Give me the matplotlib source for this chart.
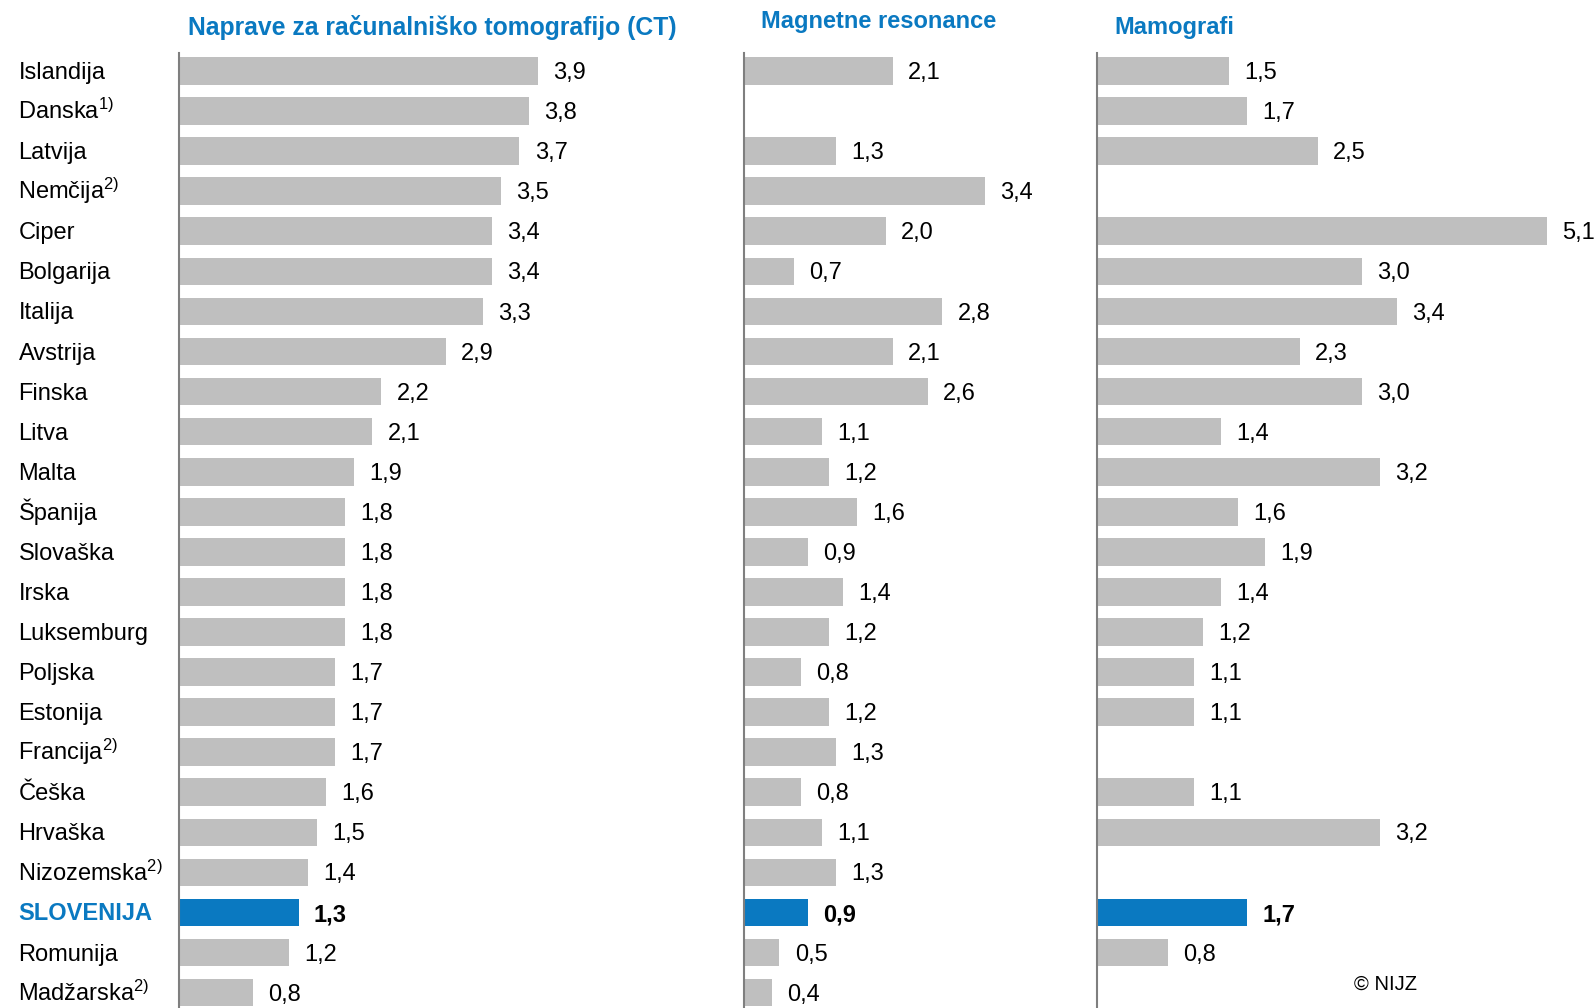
import numpy as np
import matplotlib
matplotlib.use("Agg")
import matplotlib.pyplot as plt
from matplotlib import font_manager as fm
from matplotlib.transforms import blended_transform_factory

# ---- data -------------------------------------------------------------
countries = ["Islandija", "Danska", "Latvija", "Nemčija", "Ciper", "Bolgarija",
             "Italija", "Avstrija", "Finska", "Litva", "Malta", "Španija",
             "Slovaška", "Irska", "Luksemburg", "Poljska", "Estonija", "Francija",
             "Češka", "Hrvaška", "Nizozemska", "SLOVENIJA", "Romunija", "Madžarska"]
notes = ["", "1)", "", "2)", "", "", "", "", "", "", "", "", "", "", "", "", "",
         "2)", "", "", "2)", "", "", "2)"]
nan = np.nan
ct = [3.9, 3.8, 3.7, 3.5, 3.4, 3.4, 3.3, 2.9, 2.2, 2.1, 1.9, 1.8, 1.8, 1.8, 1.8,
      1.7, 1.7, 1.7, 1.6, 1.5, 1.4, 1.3, 1.2, 0.8]
mr = [2.1, nan, 1.3, 3.4, 2.0, 0.7, 2.8, 2.1, 2.6, 1.1, 1.2, 1.6, 0.9, 1.4, 1.2,
      0.8, 1.2, 1.3, 0.8, 1.1, 1.3, 0.9, 0.5, 0.4]
mam = [1.5, 1.7, 2.5, nan, 5.1, 3.0, 3.4, 2.3, 3.0, 1.4, 3.2, 1.6, 1.9, 1.4, 1.2,
       1.1, 1.1, nan, 1.1, 3.2, nan, 1.7, 0.8, nan]
titles = ["Naprave za računalniško tomografijo (CT)", "Magnetne resonance", "Mamografi"]
highlight = "SLOVENIJA"

# ---- style ------------------------------------------------------------
available = {f.name for f in fm.fontManager.ttflist}
family = "DejaVu Sans"
for cand in ["Liberation Sans", "Roboto", "Lato"]:
    if cand in available:
        family = cand
        break
plt.rcParams["font.family"] = [family, "DejaVu Sans"]
plt.rcParams["mathtext.fontset"] = "custom"
plt.rcParams["mathtext.rm"] = family
plt.rcParams["mathtext.it"] = family
plt.rcParams["mathtext.bf"] = family + ":bold"

GREY = "#BFBFBF"
BLUE = "#0A79C1"
AXIS = "#7F7F7F"
FS = 17

W, H = 1596, 1008
fig = plt.figure(figsize=(W / 100, H / 100), dpi=100)

n = len(countries)
row_px = 40.07
first_px = 71.0
top_px = 53.0
ytop = -(first_px - top_px) / row_px
ybot = (n - 1) + (H - (first_px + (n - 1) * row_px)) / row_px
ax_h = (H - top_px) / H

# panel: (values, left px, xmax, px per unit, title centre x px, title y px, title size)
panels = [
    (ct, 179, 5.0, 92.0, 432, 27.5, 17.8),
    (mr, 744, 4.5, 70.8, 879, 21.5, 17),
    (mam, 1097, 5.5, 88.3, 1174, 27.5, 17),
]

ypos = np.arange(n)
axes = []
for vals, left, xmax, ppu, tx, ty, tfs in panels:
    ax = fig.add_axes([left / W, 0, xmax * ppu / W, ax_h])
    vals = np.array(vals, dtype=float)
    colors = [BLUE if c == highlight else GREY for c in countries]
    ok = ~np.isnan(vals)
    ax.barh(ypos[ok], vals[ok], height=0.69, color=np.array(colors)[ok], zorder=2)
    for i, v in enumerate(vals):
        if np.isnan(v):
            continue
        bold = countries[i] == highlight
        ax.annotate(f"{v:.1f}".replace(".", ","), (v, i), xytext=(11, -1.5),
                    textcoords="offset points", ha="left", va="center",
                    fontsize=FS, fontweight="bold" if bold else "normal",
                    color="black", annotation_clip=False)
    ax.set_xlim(0, xmax)
    ax.set_ylim(ybot, ytop)
    for s in ["top", "right", "bottom"]:
        ax.spines[s].set_visible(False)
    ax.spines["left"].set_color(AXIS)
    ax.spines["left"].set_linewidth(1.5)
    ax.set_xticks([])
    ax.set_yticks([])
    ax.patch.set_alpha(0)
    axes.append(ax)

for (vals, left, xmax, ppu, tx, ty, tfs), title in zip(panels, titles):
    fig.text(tx / W, 1 - ty / H, title, ha="center", va="center",
             fontsize=tfs, fontweight="bold", color=BLUE)

# country labels at the left edge, all sitting on a common baseline offset
tr = blended_transform_factory(fig.transFigure, axes[0].transData)
for i, (c, note) in enumerate(zip(countries, notes)):
    if c == highlight:
        axes[0].text(18.5 / W, i + 0.2, c, transform=tr, ha="left", va="baseline",
                     fontsize=FS, fontweight="bold", color=BLUE)
    else:
        label = c + (r"$^{\mathrm{" + note + "}}$" if note else "")
        axes[0].text(18.5 / W, i + 0.2, label, transform=tr, ha="left",
                     va="baseline", fontsize=FS, color="black")

fig.text(1354 / W, 1 - 984 / H, "© NIJZ", ha="left", va="center",
         fontsize=14.5, color="black")

fig.savefig("out.png", dpi=100)
